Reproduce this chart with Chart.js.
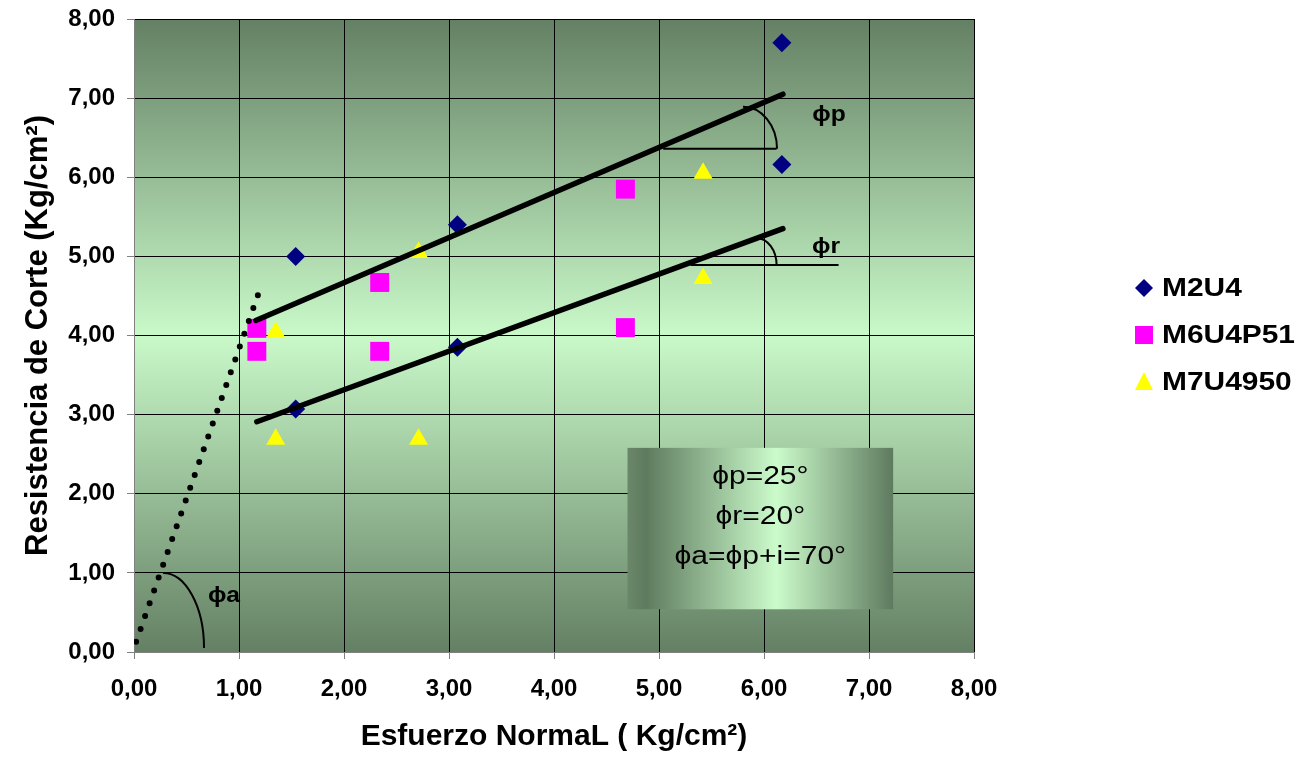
<!DOCTYPE html>
<html><head><meta charset="utf-8">
<script src="https://cdn.jsdelivr.net/npm/chart.js@4/dist/chart.umd.min.js"></script>
<style>html,body{margin:0;padding:0;background:#fff}#wrap{width:1306px;height:765px}</style>
</head><body><div id="wrap"><canvas id="c" width="1306" height="765"></canvas></div>
<script>
// ---- data ----
const seriesNames = ['M2U4', 'M6U4P51', 'M7U4950'];
const m2u4X = [1.54, 1.54, 3.08, 3.08, 6.17, 6.17];
const m2u4Y = [5.00, 3.07, 5.40, 3.85, 7.70, 6.16];
const m6u4p51X = [1.17, 1.17, 2.34, 2.34, 4.68, 4.68];
const m6u4p51Y = [4.09, 3.80, 4.67, 3.80, 5.85, 4.10];
const m7u4950X = [1.35, 1.35, 2.71, 2.71, 5.42, 5.42];
const m7u4950Y = [4.04, 2.69, 5.05, 2.69, 6.05, 4.72];
// envelope lines (peak, residual, apparent)
const peakLineX = [1.16, 6.18], peakLineY = [4.19, 7.05];
const resLineX = [1.17, 6.18], resLineY = [2.91, 5.35];
const apparentLineX = [0.02, 1.18], apparentLineY = [0.13, 4.51];
// angle reference horizontals
const phiPRefX = [5.04, 6.12], phiPRefY = [6.36, 6.36];
const phiRRefX = [5.30, 6.71], phiRRefY = [4.89, 4.89];
// angle arcs: centre x, centre y, radius x, radius y (data units)
const arcCx = [5.80, 5.93, 0.277];
const arcCy = [6.36, 4.89, 0.05];
const arcRx = [0.324, 0.19, 0.39];
const arcRy = [0.531, 0.34, 0.948];
// angle labels
const angleLabels = ['ϕp', 'ϕr', 'ϕa'];
const angleLabelX = [6.62, 6.59, 0.857];
const angleLabelY = [6.79, 5.12, 0.71];
// summary box
const boxLines = ['ϕp=25°', 'ϕr=20°', 'ϕa=ϕp+i=70°'];
const boxX = [4.70, 7.23], boxY = [2.58, 0.54];
const boxLineY = [2.21, 1.71, 1.20];
// axes
const xMin = 0, xMax = 8, yMin = 0, yMax = 8, tickStep = 1;
const xTitle = 'Esfuerzo NormaL ( Kg/cm²)';
const yTitle = 'Resistencia de Corte (Kg/cm²)';

const pts = (xs, ys) => xs.map((x, i) => ({x: x, y: ys[i]}));
const fmt = v => Number(v).toFixed(2).replace('.', ',');
const FONT = '"Liberation Sans", Arial, sans-serif';

const markerColors = ['#000080', '#FF00FF', '#FFFF00'];
const markerStyles = ['rectRot', 'rect', 'triangle'];

const bgPlugin = {
  id: 'bg',
  beforeDraw(chart) {
    const {ctx, chartArea: a} = chart;
    ctx.save();
    ctx.fillStyle = '#fff';
    ctx.fillRect(0, 0, chart.width, chart.height);
    const g = ctx.createLinearGradient(0, a.top, 0, a.bottom);
    g.addColorStop(0, '#648064');
    g.addColorStop(0.5, '#c9f9c9');
    g.addColorStop(1, '#648064');
    ctx.fillStyle = g;
    ctx.fillRect(a.left, a.top, a.right - a.left, a.bottom - a.top);
    ctx.restore();
  }
};

const boxPlugin = {
  id: 'box',
  beforeDatasetsDraw(chart) {
    const {ctx} = chart;
    const xs = chart.scales.x, ys = chart.scales.y;
    const l = xs.getPixelForValue(boxX[0]), r = xs.getPixelForValue(boxX[1]);
    const t = ys.getPixelForValue(boxY[0]), b = ys.getPixelForValue(boxY[1]);
    ctx.save();
    const g = ctx.createLinearGradient(l, 0, r, 0);
    g.addColorStop(0, '#6a876a');
    g.addColorStop(0.07, '#5f7b5f');
    g.addColorStop(0.56, '#cbfbcb');
    g.addColorStop(1, '#5f7a5f');
    ctx.fillStyle = g;
    ctx.fillRect(l, t, r - l, b - t);
    ctx.fillStyle = '#000';
    ctx.font = '25px ' + FONT;
    ctx.textAlign = 'center';
    ctx.textBaseline = 'middle';
    const cx = (l + r) / 2;
    boxLines.forEach((s, i) => {
      ctx.save();
      ctx.translate(cx, ys.getPixelForValue(boxLineY[i]));
      ctx.scale(1.2, 1);
      ctx.fillText(s, 0, 0);
      ctx.restore();
    });
    ctx.restore();
  }
};

const anglePlugin = {
  id: 'angles',
  afterDatasetsDraw(chart) {
    const {ctx} = chart;
    const xs = chart.scales.x, ys = chart.scales.y;
    ctx.save();
    ctx.strokeStyle = '#000';
    ctx.lineWidth = 2;
    arcCx.forEach((cx, i) => {
      const px = xs.getPixelForValue(cx), py = ys.getPixelForValue(arcCy[i]);
      const rx = xs.getPixelForValue(cx + arcRx[i]) - px;
      const ry = py - ys.getPixelForValue(arcCy[i] + arcRy[i]);
      ctx.beginPath();
      ctx.ellipse(px, py, rx, ry, 0, -Math.PI / 2, 0);
      ctx.stroke();
    });
    ctx.fillStyle = '#000';
    ctx.font = 'bold 22px ' + FONT;
    ctx.textAlign = 'center';
    ctx.textBaseline = 'middle';
    angleLabels.forEach((s, i) => {
      ctx.save();
      ctx.translate(xs.getPixelForValue(angleLabelX[i]), ys.getPixelForValue(angleLabelY[i]));
      ctx.scale(1.12, 1);
      ctx.fillText(s, 0, 0);
      ctx.restore();
    });
    ctx.restore();
  }
};

function drawMarker(ctx, style, x, y, s, color) {
  ctx.fillStyle = color;
  ctx.beginPath();
  if (style === 'rectRot') {
    ctx.moveTo(x, y - s / 2); ctx.lineTo(x + s / 2, y); ctx.lineTo(x, y + s / 2); ctx.lineTo(x - s / 2, y);
  } else if (style === 'rect') {
    ctx.rect(x - s / 2, y - s / 2, s, s);
  } else {
    ctx.moveTo(x, y - s * 0.55); ctx.lineTo(x + s / 2, y + s * 0.45); ctx.lineTo(x - s / 2, y + s * 0.45);
  }
  ctx.closePath();
  ctx.fill();
}

const legendPlugin = {
  id: 'customLegend',
  afterDraw(chart) {
    const {ctx} = chart;
    const a = chart.chartArea;
    const mx = a.right + 170, tx = a.right + 188;
    const rowY = [288, 335, 382];
    ctx.save();
    ctx.font = 'bold 26px ' + FONT;
    ctx.textBaseline = 'middle';
    ctx.textAlign = 'left';
    seriesNames.forEach((n, i) => {
      drawMarker(ctx, markerStyles[i], mx, rowY[i], 18, markerColors[i]);
      ctx.save();
      ctx.translate(tx, rowY[i] + 1);
      ctx.scale(1.15, 1);
      ctx.fillStyle = '#000';
      ctx.fillText(n, 0, 0);
      ctx.restore();
    });
    ctx.restore();
  }
};

const lineDs = (xs, ys, w, extra) => Object.assign({
  type: 'scatter', data: pts(xs, ys), showLine: true, borderColor: '#000', backgroundColor: '#000',
  borderWidth: w, pointRadius: 0, borderCapStyle: 'round', fill: false, tension: 0
}, extra || {});

new Chart(document.getElementById('c'), {
  type: 'scatter',
  data: {
    datasets: [
      lineDs(peakLineX, peakLineY, 5.5),
      lineDs(resLineX, resLineY, 5.5),
      lineDs(apparentLineX, apparentLineY, 6, {borderDash: [0, 13.6]}),
      lineDs(phiPRefX, phiPRefY, 2, {borderCapStyle: 'butt'}),
      lineDs(phiRRefX, phiRRefY, 2, {borderCapStyle: 'butt'}),
      {label: seriesNames[0], data: pts(m2u4X, m2u4Y), pointStyle: 'rectRot', pointRadius: 9.5,
       backgroundColor: markerColors[0], borderColor: markerColors[0], borderWidth: 0},
      {label: seriesNames[1], data: pts(m6u4p51X, m6u4p51Y), pointStyle: 'rect', pointRadius: 13.4,
       backgroundColor: markerColors[1], borderColor: markerColors[1], borderWidth: 0},
      {label: seriesNames[2], data: pts(m7u4950X, m7u4950Y), pointStyle: 'triangle', pointRadius: 11,
       backgroundColor: markerColors[2], borderColor: markerColors[2], borderWidth: 0}
    ]
  },
  options: {
    responsive: false,
    animation: false,
    events: [],
    layout: {padding: {top: 19, right: 332, bottom: 0, left: 0}},
    plugins: {legend: {display: false}, tooltip: {enabled: false}},
    scales: {
      x: {
        type: 'linear', min: xMin, max: xMax,
        ticks: {stepSize: tickStep, callback: fmt, color: '#000', padding: 16, maxRotation: 0,
                font: {family: FONT, size: 24, weight: 'bold'}},
        grid: {color: '#000', lineWidth: 1, tickLength: 7, tickColor: '#808080'},
        border: {color: '#808080', width: 1},
        title: {display: true, text: xTitle, color: '#000', padding: {top: 0, bottom: 10},
                font: {family: FONT, size: 30, weight: 'bold'}},
        afterFit(s) { s.height = 113; s.paddingLeft = 0; s.paddingRight = 0; }
      },
      y: {
        type: 'linear', min: yMin, max: yMax,
        ticks: {stepSize: tickStep, callback: fmt, color: '#000', padding: 12,
                font: {family: FONT, size: 24, weight: 'bold'}},
        grid: {color: '#000', lineWidth: 1, tickLength: 7, tickColor: '#808080'},
        border: {color: '#808080', width: 1},
        title: {display: true, text: yTitle, color: '#000', padding: {top: 20, bottom: 0},
                font: {family: FONT, size: 31, weight: 'bold'}},
        afterFit(s) { s.width = 134; s.paddingTop = 0; s.paddingBottom = 0; }
      }
    }
  },
  plugins: [bgPlugin, boxPlugin, anglePlugin, legendPlugin]
});
</script></body></html>
